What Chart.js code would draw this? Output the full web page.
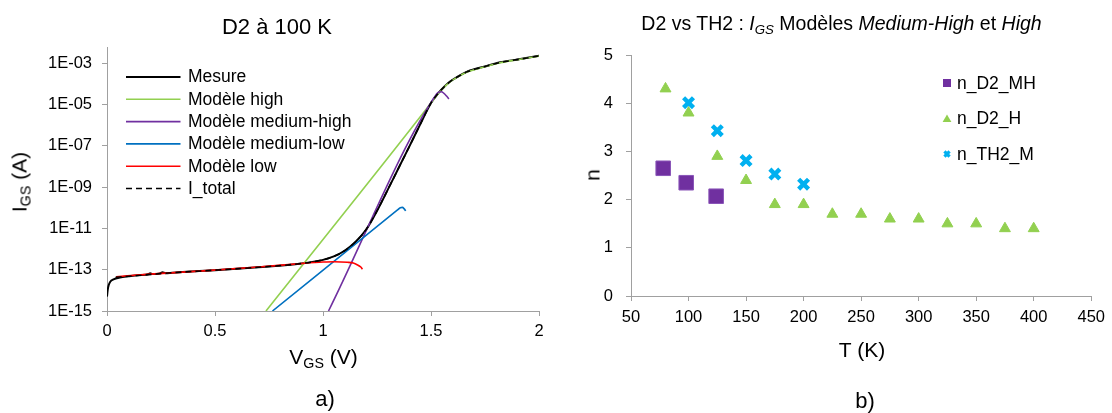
<!DOCTYPE html>
<html><head><meta charset="utf-8">
<script src="https://cdn.jsdelivr.net/npm/chart.js@4.4.1/dist/chart.umd.min.js"></script>
<style>
html,body{margin:0;padding:0;background:#fff;}
body{width:1112px;height:413px;position:relative;overflow:hidden;font-family:"Liberation Sans",Arial,sans-serif;color:#000;}
canvas{position:absolute;top:0;}
.t{position:absolute;transform:translate(-50%,-50%);white-space:nowrap;line-height:1;}
.sub{font-size:0.68em;position:relative;top:0.3em;}
</style></head><body>
<canvas id="c1" width="560" height="413" style="left:0;width:560px;height:413px"></canvas>
<canvas id="c2" width="552" height="413" style="left:560px;width:552px;height:413px"></canvas>
<div class="t" style="left:277px;top:27px;font-size:22px">D2 à 100 K</div>
<div class="t" style="left:19px;top:182px;font-size:21px;transform:translate(-50%,-50%) rotate(-90deg)">I<span class="sub">GS</span> (A)</div>
<div class="t" style="left:323.5px;top:356px;font-size:21px">V<span class="sub">GS</span> (V)</div>
<div class="t" style="left:325px;top:399px;font-size:22px">a)</div>
<div class="t" style="left:841.5px;top:24px;font-size:19.5px">D2 vs TH2 : <i>I<span class="sub">GS</span></i> Modèles <i>Medium-High</i> et <i>High</i></div>
<div class="t" style="left:592px;top:175px;font-size:21px;transform:translate(-50%,-50%) rotate(-90deg)">n</div>
<div class="t" style="left:862px;top:348.5px;font-size:21px">T (K)</div>
<div class="t" style="left:865px;top:401px;font-size:22px">b)</div>
<script>
// ---------- Chart a) data : V_GS (V) and I_GS (A) ----------
const mesureV = [0.000,0.003,0.008,0.015,0.030,0.060,0.100,0.150,0.190,0.200,0.210,0.245,0.257,0.270,0.350,0.500,0.700,0.900,1.000,1.050,1.100,1.150,1.200,1.250,1.300,1.350,1.400,1.450,1.500,1.530,1.560,1.590,1.630,1.670,1.750,1.820,1.900,2.000];
const mesureI = [5.0e-15,1.0e-14,1.8e-14,2.6e-14,3.4e-14,4.2e-14,4.8e-14,5.5e-14,6.0e-14,6.8e-14,6.2e-14,6.6e-14,7.6e-14,6.8e-14,7.8e-14,9.5e-14,1.32e-13,2.0e-13,3.0e-13,4.4e-13,8.3e-13,2.2e-12,8.9e-12,7.1e-11,7.6e-10,8.5e-9,9.5e-8,1.1e-6,1.2e-5,3.2e-5,7.1e-5,1.35e-4,2.5e-4,4.1e-4,7.1e-4,1.12e-3,1.55e-3,2.35e-3];
const highV = [0.736,1.500,1.530,1.560,1.590,1.630,1.670,1.750,1.820,1.900,2.000];
const highI = [1.0e-15,1.2e-5,3.1e-5,6.9e-5,1.3e-4,2.4e-4,3.9e-4,6.8e-4,1.07e-3,1.5e-3,2.25e-3];
const medHighV = [1.0255,1.525,1.535,1.548,1.560,1.572,1.583];
const medHighI = [1.0e-15,3.2e-5,4.0e-5,4.2e-5,3.5e-5,2.6e-5,1.9e-5];
const medLowV = [0.766,1.345,1.358,1.367,1.376,1.383];
const medLowI = [1.0e-15,7.9e-11,1.02e-10,1.05e-10,8.9e-11,7.1e-11];
const lowV = [0.042,0.200,0.480,0.700,0.900,1.000,1.052,1.113,1.140,1.160,1.175,1.183];
const lowI = [4.6e-14,6.1e-14,9.3e-14,1.35e-13,2.0e-13,2.35e-13,2.45e-13,2.3e-13,2.1e-13,1.7e-13,1.35e-13,1.07e-13];
const totalV = [0.040,0.100,0.300,0.500,0.700,0.900,1.000,1.050,1.100,1.150,1.200,1.250,1.300,1.350,1.400,1.450,1.500,1.530,1.560,1.590,1.630,1.670,1.750,1.820,1.900,2.000];
const totalI = [4.3e-14,4.8e-14,7.1e-14,9.5e-14,1.32e-13,2.0e-13,3.0e-13,4.4e-13,8.3e-13,2.2e-12,8.9e-12,7.1e-11,7.6e-10,8.5e-9,9.5e-8,1.1e-6,1.2e-5,3.2e-5,7.1e-5,1.33e-4,2.45e-4,4.0e-4,7.0e-4,1.1e-3,1.52e-3,2.3e-3];
const leftXTicks = [0,0.5,1,1.5,2];
const leftYTicks = [1e-15,1e-13,1e-11,1e-9,1e-7,1e-5,1e-3];
const leftLabels = ['Mesure','Modèle high','Modèle medium-high','Modèle medium-low','Modèle low','I_total'];

// ---------- Chart b) data : T (K) and n ----------
const tD2MH = [78,98,124];
const nD2MH = [2.65,2.35,2.07];
const tD2H = [80,100,125,150,175,200,225,250,275,300,325,350,375,400];
const nD2H = [4.3,3.8,2.9,2.4,1.9,1.9,1.7,1.7,1.6,1.6,1.5,1.5,1.4,1.4];
const tTH2M = [100,125,150,175,200];
const nTH2M = [4.01,3.43,2.81,2.53,2.32];
const rightXTicks = [50,100,150,200,250,300,350,400,450];
const rightYTicks = [0,1,2,3,4,5];
const rightLabels = ['n_D2_MH','n_D2_H','n_TH2_M'];

// ---------- helpers ----------
const FONT = '"Liberation Sans", Arial, sans-serif';
const AXIS = '#A0A0A0';
const pts = (xs, ys) => xs.map((x, i) => ({x: x, y: ys[i]}));
const fmtE = v => { const e = Math.round(Math.log10(v)); const a = Math.abs(e); return '1E' + (e < 0 ? '-' : '+') + (a < 10 ? '0' + a : a); };

function axisCommon(extra) {
  return Object.assign({
    grid: {display: true, drawOnChartArea: false, drawTicks: true, tickLength: 5, color: AXIS, lineWidth: 1},
    border: {display: true, color: AXIS, width: 1},
  }, extra);
}

const leftLegend = {
  id: 'leftLegend',
  afterDatasetsDraw(chart) {
    const ctx = chart.ctx; ctx.save();
    ctx.font = '17.5px ' + FONT; ctx.textBaseline = 'middle'; ctx.fillStyle = '#000';
    chart.data.datasets.forEach((ds, i) => {
      const y = 77 + i * 22.3;
      ctx.strokeStyle = ds.borderColor; ctx.lineWidth = ds.borderWidth;
      ctx.setLineDash(ds.borderDash || []);
      ctx.beginPath(); ctx.moveTo(126, y); ctx.lineTo(180.5, y); ctx.stroke();
      ctx.setLineDash([]);
      ctx.fillText(ds.label, 188, y + 0.5);
    });
    ctx.restore();
  }
};

function drawMarker(ctx, style, color, x, y, s) {
  ctx.fillStyle = color; ctx.strokeStyle = color;
  if (style === 'rect') { ctx.fillRect(x - s / 2, y - s / 2, s, s); }
  else if (style === 'triangle') {
    ctx.beginPath(); ctx.moveTo(x, y - s * 0.5); ctx.lineTo(x + s * 0.55, y + s * 0.45); ctx.lineTo(x - s * 0.55, y + s * 0.45); ctx.closePath(); ctx.fill();
  } else {
    ctx.lineWidth = 3.2; const h = s * 0.32;
    ctx.beginPath(); ctx.moveTo(x - h, y - h); ctx.lineTo(x + h, y + h); ctx.moveTo(x + h, y - h); ctx.lineTo(x - h, y + h); ctx.stroke();
  }
}
const rightLegend = {
  id: 'rightLegend',
  afterDatasetsDraw(chart) {
    const ctx = chart.ctx; ctx.save();
    ctx.font = '17.5px ' + FONT; ctx.textBaseline = 'middle';
    chart.data.datasets.forEach((ds, i) => {
      const y = 83 + i * 35.5;
      drawMarker(ctx, ds.pointStyle, ds.backgroundColor, 387, y, 8);
      ctx.fillStyle = '#000';
      ctx.fillText(ds.label, 397, y + 1);
    });
    ctx.restore();
  }
};

// ---------- Chart a) ----------
new Chart(document.getElementById('c1'), {
  type: 'line',
  data: {
    datasets: [
      {label: leftLabels[0], data: pts(mesureV, mesureI), borderColor: '#000000', borderWidth: 2, order: 6, cubicInterpolationMode: 'monotone'},
      {label: leftLabels[1], data: pts(highV, highI), borderColor: '#92D050', borderWidth: 1.6, order: 5, cubicInterpolationMode: 'monotone'},
      {label: leftLabels[2], data: pts(medHighV, medHighI), borderColor: '#7030A0', borderWidth: 1.6, order: 4, cubicInterpolationMode: 'monotone'},
      {label: leftLabels[3], data: pts(medLowV, medLowI), borderColor: '#0070C0', borderWidth: 1.6, order: 3, cubicInterpolationMode: 'monotone'},
      {label: leftLabels[4], data: pts(lowV, lowI), borderColor: '#FF0000', borderWidth: 1.6, order: 2, cubicInterpolationMode: 'monotone'},
      {label: leftLabels[5], data: pts(totalV, totalI), borderColor: '#000000', borderWidth: 1.6, borderDash: [6, 4], order: 1, cubicInterpolationMode: 'monotone'}
    ]
  },
  options: {
    responsive: false, animation: false, devicePixelRatio: 1,
    layout: {padding: {left: 0, right: 21, top: 47, bottom: 0}},
    elements: {point: {radius: 0, hoverRadius: 0}},
    plugins: {legend: {display: false}, tooltip: {enabled: false}, title: {display: false}},
    scales: {
      x: axisCommon({
        type: 'linear', min: 0, max: 2,
        afterBuildTicks: s => { s.ticks = leftXTicks.map(v => ({value: v})); },
        afterFit: s => { s.height = 102; },
        ticks: {font: {family: FONT, size: 16.5}, color: '#000', padding: 6, autoSkip: false, maxRotation: 0, callback: v => String(v)}
      }),
      y: axisCommon({
        type: 'logarithmic', min: 1e-15, max: 6.2e-3,
        afterBuildTicks: s => { s.ticks = leftYTicks.map(v => ({value: v})); },
        afterFit: s => { s.width = 107; },
        ticks: {font: {family: FONT, size: 16.5}, color: '#000', padding: 10, autoSkip: false, callback: v => fmtE(v)}
      })
    }
  },
  plugins: [leftLegend]
});

// ---------- Chart b) ----------
new Chart(document.getElementById('c2'), {
  type: 'scatter',
  data: {
    datasets: [
      {label: rightLabels[0], data: pts(tD2MH, nD2MH), pointStyle: 'rect', backgroundColor: '#7030A0', borderColor: '#8A55B8', borderWidth: 1, pointRadius: 10.3, order: 3},
      {label: rightLabels[1], data: pts(tD2H, nD2H), pointStyle: 'triangle', backgroundColor: '#92D050', borderColor: '#92D050', borderWidth: 1, pointRadius: 6.3, order: 2},
      {label: rightLabels[2], data: pts(tTH2M, nTH2M), pointStyle: 'crossRot', backgroundColor: '#00B0F0', borderColor: '#00B0F0', borderWidth: 4.4, pointRadius: 7, order: 1}
    ]
  },
  options: {
    responsive: false, animation: false, devicePixelRatio: 1,
    layout: {padding: {left: 0, right: 20, top: 55, bottom: 0}},
    plugins: {legend: {display: false}, tooltip: {enabled: false}, title: {display: false}},
    scales: {
      x: axisCommon({
        type: 'linear', min: 50, max: 450,
        afterBuildTicks: s => { s.ticks = rightXTicks.map(v => ({value: v})); },
        afterFit: s => { s.height = 117; },
        ticks: {font: {family: FONT, size: 16.5}, color: '#000', padding: 7, autoSkip: false, maxRotation: 0}
      }),
      y: axisCommon({
        type: 'linear', min: 0, max: 5,
        afterBuildTicks: s => { s.ticks = rightYTicks.map(v => ({value: v})); },
        afterFit: s => { s.width = 71; },
        ticks: {font: {family: FONT, size: 16.5}, color: '#000', padding: 13, autoSkip: false}
      })
    }
  },
  plugins: [rightLegend]
});
</script>
</body></html>
